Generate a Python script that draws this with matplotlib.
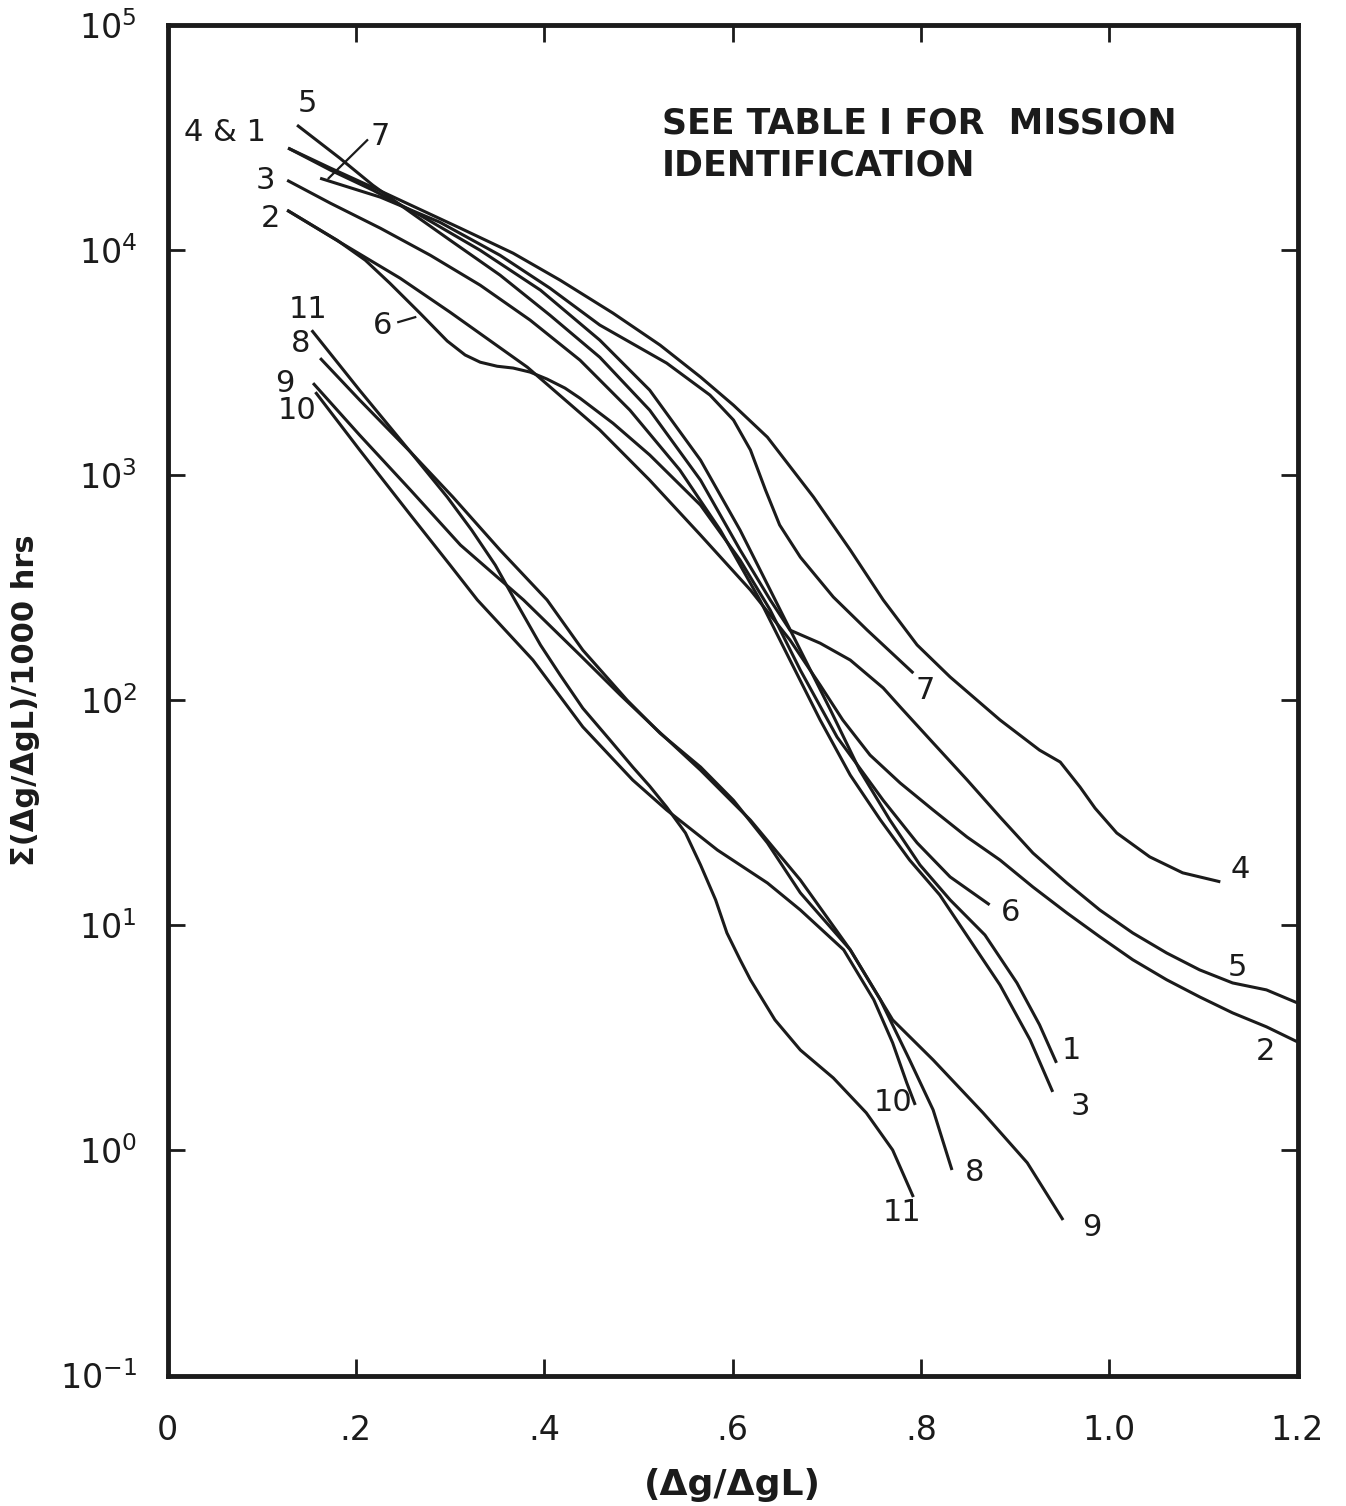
import numpy as np
import matplotlib
matplotlib.use('Agg')
import matplotlib.pyplot as plt
from matplotlib.ticker import NullLocator

plt.rcParams['font.family'] = ['DejaVu Sans']

# mission curves: x = (dg/dgL), logy = log10 of cumulative exceedances per 1000 hrs
m1_x = [0.128, 0.173, 0.218, 0.268, 0.332, 0.396, 0.459, 0.512, 0.566, 0.608, 0.640,
        0.672, 0.704, 0.735, 0.767, 0.799, 0.831, 0.868, 0.902, 0.926, 0.944]
m1_logy = [4.452, 4.354, 4.265, 4.154, 3.998, 3.821, 3.599, 3.377, 3.066, 2.755, 2.489,
           2.222, 1.956, 1.689, 1.468, 1.268, 1.113, 0.957, 0.744, 0.558, 0.389]

m2_x = [0.127, 0.183, 0.247, 0.300, 0.382, 0.459, 0.512, 0.566, 0.619, 0.661, 0.693,
        0.717, 0.746, 0.778, 0.813, 0.849, 0.884, 0.919, 0.955, 0.990, 1.025, 1.061, 1.096,
        1.131, 1.167, 1.200]
m2_logy = [4.176, 4.034, 3.874, 3.723, 3.479, 3.200, 2.977, 2.733, 2.489, 2.267, 2.067,
           1.912, 1.756, 1.632, 1.512, 1.392, 1.290, 1.170, 1.055, 0.949, 0.847, 0.758, 0.682,
           0.611, 0.549, 0.482]

m3_x = [0.127, 0.173, 0.226, 0.279, 0.332, 0.385, 0.438, 0.491, 0.544, 0.587, 0.629,
        0.661, 0.693, 0.725, 0.757, 0.788, 0.820, 0.852, 0.884, 0.916, 0.940]
m3_logy = [4.309, 4.207, 4.096, 3.976, 3.843, 3.688, 3.510, 3.288, 3.022, 2.755, 2.445,
           2.178, 1.912, 1.667, 1.468, 1.290, 1.135, 0.935, 0.735, 0.491, 0.260]

m4_x = [0.128, 0.173, 0.215, 0.254, 0.311, 0.367, 0.417, 0.473, 0.523, 0.566, 0.601, 0.637,
        0.686, 0.725, 0.760, 0.796, 0.831, 0.884, 0.926, 0.948, 0.969, 0.985, 1.008, 1.043,
        1.078, 1.118]
m4_logy = [4.452, 4.363, 4.283, 4.207, 4.096, 3.985, 3.865, 3.719, 3.577, 3.435, 3.310, 3.168,
           2.902, 2.667, 2.445, 2.245, 2.103, 1.912, 1.778, 1.725, 1.614, 1.520, 1.410, 1.304,
           1.233, 1.193]

m5_x = [0.1375, 0.183, 0.218, 0.258, 0.300, 0.353, 0.406, 0.459, 0.512, 0.566, 0.608, 0.640,
        0.661, 0.693, 0.725, 0.760, 0.778, 0.813, 0.849, 0.884, 0.919, 0.955, 0.990, 1.025,
        1.061, 1.096, 1.131, 1.167, 1.200]
m5_logy = [4.554, 4.407, 4.287, 4.167, 4.043, 3.888, 3.710, 3.523, 3.288, 2.977, 2.667, 2.445,
           2.311, 2.253, 2.178, 2.054, 1.970, 1.810, 1.646, 1.481, 1.321, 1.188, 1.068, 0.966,
           0.877, 0.802, 0.744, 0.713, 0.655]

m6_x = [0.127, 0.180, 0.210, 0.236, 0.268, 0.297, 0.316, 0.332, 0.350, 0.367, 0.385, 0.403,
        0.422, 0.438, 0.473, 0.512, 0.566, 0.608, 0.640, 0.672, 0.711, 0.760, 0.796, 0.831,
        0.873]
m6_logy = [4.176, 4.043, 3.954, 3.852, 3.719, 3.595, 3.533, 3.501, 3.483, 3.475, 3.457, 3.426,
           3.386, 3.341, 3.230, 3.089, 2.866, 2.622, 2.400, 2.133, 1.836, 1.555, 1.366, 1.215,
           1.091]

m7_x = [0.162, 0.226, 0.289, 0.353, 0.406, 0.459, 0.530, 0.576, 0.601, 0.619, 0.635, 0.650,
        0.672, 0.707, 0.743, 0.792]
m7_logy = [4.318, 4.234, 4.123, 3.976, 3.830, 3.666, 3.497, 3.355, 3.244, 3.111, 2.933, 2.778,
           2.635, 2.458, 2.311, 2.120]

m8_x = [0.162, 0.204, 0.258, 0.303, 0.353, 0.403, 0.441, 0.488, 0.523, 0.566, 0.601, 0.637,
        0.672, 0.725, 0.757, 0.788, 0.813, 0.833]
m8_logy = [3.519, 3.333, 3.102, 2.902, 2.667, 2.445, 2.222, 2.000, 1.853, 1.703, 1.555, 1.366,
           1.144, 0.891, 0.669, 0.402, 0.180, -0.087]

m9_x = [0.1545, 0.204, 0.258, 0.311, 0.378, 0.438, 0.481, 0.520, 0.566, 0.619, 0.672, 0.725,
        0.770, 0.813, 0.866, 0.913, 0.951]
m9_logy = [3.408, 3.177, 2.933, 2.689, 2.445, 2.200, 2.022, 1.867, 1.689, 1.467, 1.201, 0.891,
           0.580, 0.402, 0.167, -0.055, -0.309]

m10_x = [0.157, 0.204, 0.258, 0.300, 0.329, 0.388, 0.441, 0.494, 0.530, 0.584, 0.637, 0.672,
         0.718, 0.750, 0.770, 0.785, 0.794]
m10_logy = [3.368, 3.111, 2.822, 2.600, 2.445, 2.178, 1.881, 1.645, 1.512, 1.334, 1.188, 1.068,
            0.891, 0.669, 0.478, 0.300, 0.202]

m11_x = [0.153, 0.204, 0.258, 0.297, 0.323, 0.348, 0.367, 0.396, 0.417, 0.441, 0.470, 0.494,
         0.512, 0.530, 0.550, 0.566, 0.582, 0.594, 0.608, 0.619, 0.645, 0.672, 0.707, 0.742,
         0.770, 0.792]
m11_logy = [3.643, 3.376, 3.102, 2.902, 2.755, 2.600, 2.458, 2.245, 2.111, 1.964, 1.822, 1.703,
            1.618, 1.525, 1.410, 1.268, 1.113, 0.966, 0.847, 0.758, 0.580, 0.446, 0.322, 0.167,
            0.002, -0.207]

curves = [(m1_x, m1_logy), (m2_x, m2_logy), (m3_x, m3_logy), (m4_x, m4_logy),
          (m5_x, m5_logy), (m6_x, m6_logy), (m7_x, m7_logy), (m8_x, m8_logy),
          (m9_x, m9_logy), (m10_x, m10_logy), (m11_x, m11_logy)]

# curve labels: text, x, log10(y)
labels = [('5', 0.148, 4.651), ('4 & 1', 0.061, 4.523), ('7', 0.226, 4.505),
          ('3', 0.104, 4.309), ('2', 0.109, 4.141), ('6', 0.228, 3.666),
          ('11', 0.149, 3.735), ('8', 0.141, 3.586), ('9', 0.124, 3.408), ('10', 0.1375, 3.288),
          ('7', 0.8045, 2.045), ('4', 1.139, 1.246), ('6', 0.895, 1.059), ('5', 1.136, 0.811),
          ('2', 1.166, 0.438), ('1', 0.960, 0.446), ('3', 0.969, 0.193), ('10', 0.770, 0.211),
          ('8', 0.857, -0.096), ('11', 0.780, -0.274), ('9', 0.982, -0.344)]

xticks = [0, 0.2, 0.4, 0.6, 0.8, 1.0, 1.2]
xtick_labels = ['0', '.2', '.4', '.6', '.8', '1.0', '1.2']
ydecades = [-1, 0, 1, 2, 3, 4, 5]

ink = '#1b1b1b'

fig = plt.figure(figsize=(13.46, 15.06), dpi=100)
ax = fig.add_axes([0.1245, 0.0866, 0.8395, 0.897])

for xs, ls in curves:
    ax.plot(xs, 10.0 ** np.array(ls), color=ink, lw=2.2, solid_capstyle='butt',
            solid_joinstyle='round')

ax.set_yscale('log')
ax.set_xlim(0, 1.2)
ax.set_ylim(1e-1, 1e5)

ax.set_xticks(xticks)
ax.set_xticklabels(xtick_labels)
ax.set_yticks([10.0 ** d for d in ydecades])
ax.set_yticklabels([r'$10^{%d}$' % d for d in ydecades])
ax.yaxis.set_minor_locator(NullLocator())
ax.tick_params(direction='in', length=12, width=2, top=True, right=True,
               labelsize=24, colors=ink)
ax.tick_params(axis='x', pad=28)
ax.tick_params(axis='y', pad=22)
for sp in ax.spines.values():
    sp.set_linewidth(3.5)
    sp.set_color(ink)

for t, x, ly in labels:
    ax.text(x, 10.0 ** ly, t, fontsize=22, color=ink, ha='center', va='center')

# leader lines for labels 6 and 7 at the upper left
ax.plot([0.245, 0.263], [10 ** 3.679, 10 ** 3.701], color=ink, lw=1.6)
ax.plot([0.212, 0.171], [10 ** 4.487, 10 ** 4.318], color=ink, lw=1.6)

ax.text(0.525, 10 ** 4.638, 'SEE TABLE I FOR  MISSION\nIDENTIFICATION', fontsize=25,
        fontweight='bold', color=ink, ha='left', va='top', linespacing=1.3)

ax.set_xlabel('(Δg/ΔgL)', fontsize=26, color=ink, fontweight='bold')
ax.xaxis.set_label_coords(0.5, -0.081)
ax.xaxis.label.set_va('center')
ax.set_ylabel('Σ(Δg/ΔgL)/1000 hrs', fontsize=22, color=ink, fontweight='bold')
ax.yaxis.set_label_coords(-0.126, 0.5)
ax.yaxis.label.set_va('center')

fig.savefig('out.png', dpi=100, facecolor='white')
